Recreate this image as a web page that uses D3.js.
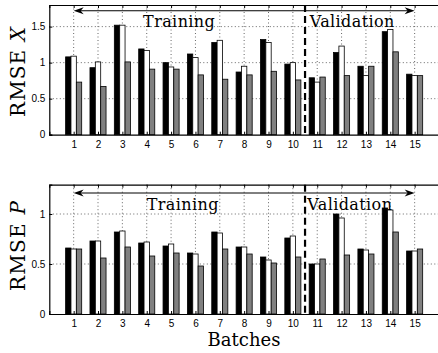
<!DOCTYPE html>
<meta charset='utf-8'>
<style>
body { margin: 0; background: #fff; }
svg text.tick { font: 10px 'Liberation Sans', Arial, sans-serif; fill: #000; }
svg text.serif { font-family: 'DejaVu Serif', serif; fill: #000; }
.grid line { stroke: #666; stroke-width: 1; stroke-dasharray: 1,2.5; }
</style>
<script src='https://cdn.jsdelivr.net/npm/d3@7/dist/d3.min.js'></script>
<body>
<script>
'use strict'

// Data - RMSE per batch, three bar series (black / white / gray)

let batches = d3.range(1, 16),
	rmseX_black = [1.08, 0.93, 1.52, 1.19, 1.00, 1.12, 1.28, 0.87, 1.32, 0.98, 0.79, 1.14, 0.95, 1.43, 0.84],
	rmseX_white = [1.09, 1.01, 1.52, 1.17, 0.94, 1.07, 1.31, 0.95, 1.28, 1.00, 0.73, 1.23, 0.82, 1.46, 0.82],
	rmseX_gray  = [0.73, 0.67, 1.01, 0.91, 0.91, 0.83, 0.77, 0.83, 0.88, 0.76, 0.80, 0.82, 0.95, 1.15, 0.82],
	rmseP_black = [0.66, 0.73, 0.82, 0.71, 0.68, 0.61, 0.82, 0.67, 0.57, 0.76, 0.50, 1.00, 0.65, 1.06, 0.63],
	rmseP_white = [0.65, 0.73, 0.83, 0.72, 0.70, 0.60, 0.81, 0.67, 0.54, 0.78, 0.50, 0.96, 0.64, 1.04, 0.63],
	rmseP_gray  = [0.65, 0.56, 0.67, 0.58, 0.61, 0.48, 0.65, 0.60, 0.51, 0.57, 0.55, 0.59, 0.60, 0.82, 0.65],
	yticksX = [0, 0.5, 1, 1.5],
	yticksP = [0, 0.5, 1],
	split_at = 10.5 // training / validation boundary

let bar_fills = ['#000', '#fff', '#808080'],
	bar_w = 0.22, // in batch units
	bar_offsets = [-bar_w, 0, bar_w]

let panels = [
	{ top: 5, bottom: 134.7, ymax: 1.8, ticks: yticksX, series: [rmseX_black, rmseX_white, rmseX_gray],
		var: 'X', arrow_y: 1.72, train: [3.85, 1.5], valid: [10.69, 1.5], label_y: 72 },
	{ top: 184.7, bottom: 314, ymax: 1.293, ticks: yticksP, series: [rmseP_black, rmseP_white, rmseP_gray],
		var: 'P', arrow_y: 1.21, train: [4.0, 1.045], valid: [10.59, 1.045], label_y: 246 } ]

let W = 438, H = 353,
	x = d3.scaleLinear([0, 16], [49.3, 439])

let svg = d3.select('body').append('svg').attr('width', W).attr('height', H)

panels.forEach(p => {
	let y = d3.scaleLinear([0, p.ymax], [p.bottom, p.top]),
		g = svg.append('g')

	// grid
	let grid = g.append('g').attr('class', 'grid')
	grid.selectAll('line.v').data(batches).join('line').attr('class', 'v')
		.attr('x1', d => x(d)).attr('x2', d => x(d)).attr('y1', p.top).attr('y2', p.bottom)
	grid.selectAll('line.h').data(p.ticks.filter(d => d > 0)).join('line').attr('class', 'h')
		.attr('x1', x(0)).attr('x2', x(16)).attr('y1', d => y(d)).attr('y2', d => y(d))

	// bars
	p.series.forEach((vals, si) => {
		g.append('g').selectAll('rect').data(vals).join('rect')
			.attr('x', (d, i) => x(batches[i] + bar_offsets[si] - bar_w / 2))
			.attr('width', x(bar_w) - x(0))
			.attr('y', d => y(d))
			.attr('height', d => y(0) - y(d))
			.attr('fill', bar_fills[si])
			.attr('stroke', '#000').attr('stroke-width', 0.8)
	})

	// axes
	let ax_b = g.append('g').attr('transform', `translate(0,${p.bottom})`)
		.call(d3.axisBottom(x).tickValues(batches).tickSize(-3).tickPadding(6).tickFormat(d3.format('d')))
	let ax_t = g.append('g').attr('transform', `translate(0,${p.top})`)
		.call(d3.axisTop(x).tickValues(batches).tickSize(-3).tickFormat(''))
	let ax_l = g.append('g').attr('transform', `translate(${x(0)},0)`)
		.call(d3.axisLeft(y).tickValues(p.ticks).tickSize(-3).tickPadding(4).tickFormat(d => String(d)))
	;[ax_b, ax_t, ax_l].forEach(a => {
		a.select('.domain').attr('stroke', '#000').attr('stroke-width', 1.2)
		a.selectAll('.tick line').attr('stroke', '#000')
		a.selectAll('text').attr('class', 'tick').attr('font-size', null).attr('font-family', null)
	})

	// split line
	g.append('line')
		.attr('x1', x(split_at)).attr('x2', x(split_at)).attr('y1', p.top).attr('y2', p.bottom)
		.attr('stroke', '#000').attr('stroke-width', 2.2).attr('stroke-dasharray', '7,4')

	// double arrow
	let ay = y(p.arrow_y), xl = x(1), xr = x(15)
	g.append('line').attr('x1', xl + 4).attr('x2', xr - 4).attr('y1', ay).attr('y2', ay)
		.attr('stroke', '#000').attr('stroke-width', 1)
	g.append('path').attr('d', `M${xl},${ay} l10,-3.5 l-3,3.5 l3,3.5 z`).attr('fill', '#000')
	g.append('path').attr('d', `M${xr},${ay} l-10,-3.5 l3,3.5 l-3,3.5 z`).attr('fill', '#000')

	g.append('text').attr('class', 'serif').attr('x', x(p.train[0])).attr('y', y(p.train[1]))
		.attr('font-size', 16).attr('letter-spacing', 0.4).text('Training')
	g.append('text').attr('class', 'serif').attr('x', x(p.valid[0])).attr('y', y(p.valid[1]))
		.attr('font-size', 16).attr('letter-spacing', 0.4).text('Validation')

	// y label
	let lab = g.append('text').attr('class', 'serif')
		.attr('transform', `translate(25,${p.label_y}) rotate(-90)`)
		.attr('text-anchor', 'middle').attr('font-size', 20)
		.attr('textLength', 90).attr('lengthAdjust', 'spacing')
	lab.append('tspan').text('RMSE ')
	lab.append('tspan').attr('font-style', 'italic').text(p.var)
})

svg.append('text').attr('class', 'serif')
	.attr('x', 244).attr('y', 346).attr('text-anchor', 'middle')
	.attr('font-size', 18).text('Batches')
</script>
</body>
